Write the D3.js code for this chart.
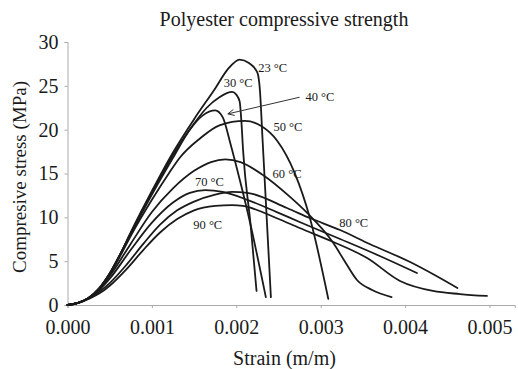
<!DOCTYPE html>
<html><head><meta charset="utf-8">
<script src="https://cdn.jsdelivr.net/npm/d3@7"></script>
<style>
html,body{margin:0;padding:0;background:#fff;}
text{font-family:"Liberation Serif","Times New Roman",Times,serif;fill:#1a1a1a;}
</style></head>
<body><svg id="c" width="518" height="369"></svg>
<script>
// ---- data ----
const title = "Polyester compressive strength";
const xTitle = "Strain (m/m)";
const yTitle = "Compresive stress (MPa)";
const xTicks = [0, 0.001, 0.002, 0.003, 0.004, 0.005];
const yTicks = [0, 5, 10, 15, 20, 25, 30];
const temps = ["23 °C","30 °C","40 °C","50 °C","60 °C","70 °C","80 °C","90 °C"];

const strain23 = [0,0.000125,0.00025,0.000375,0.0005,0.000625,0.00075,0.001,0.00125,0.0015,0.00175,0.0019,0.00204,0.00215,0.00225,0.00228,0.00231,0.00236,0.00241];
const stress23 = [0,0.25,0.8,1.9,3.6,5.8,8.3,13.0,17.4,21.2,24.7,26.9,28.0,27.6,26.5,24.5,19.1,10.0,0.9];

const strain30 = [0,0.000125,0.00025,0.000375,0.0005,0.000625,0.00075,0.001,0.00125,0.0015,0.00165,0.0018,0.00195,0.002,0.00204,0.00206,0.00208,0.00217,0.00224];
const stress30 = [0,0.25,0.8,1.9,3.6,5.8,8.2,12.8,17.1,20.7,22.5,23.7,24.3,24.0,23.2,21.0,17.7,9.1,1.6];

const strain40 = [0,0.000125,0.00025,0.000375,0.0005,0.000625,0.00075,0.001,0.00125,0.00145,0.0016,0.00175,0.00184,0.00192,0.00195,0.00217,0.00235];
const stress40 = [0,0.25,0.8,1.9,3.6,5.8,8.1,12.6,16.8,20.0,21.6,22.2,21.4,18.8,17.7,9.1,0.9];

const strain50 = [0,0.000125,0.00025,0.000375,0.0005,0.000625,0.00075,0.001,0.0012,0.00133,0.00157,0.0018,0.0021,0.0023,0.00248,0.00269,0.00287,0.00309];
const stress50 = [0,0.25,0.8,1.85,3.5,5.6,7.9,12.0,15.0,16.8,19.0,20.5,21.0,20.4,18.8,15.1,10.0,0.7];

const strain60 = [0,0.000125,0.00025,0.000375,0.0005,0.00075,0.001,0.00125,0.0015,0.0017,0.00187,0.00205,0.00232,0.00264,0.00284,0.00315,0.00329,0.00343,0.00361,0.00384];
const stress60 = [0,0.25,0.8,1.8,3.3,7.0,10.6,13.3,15.3,16.3,16.6,16.3,14.8,12.3,10.5,7.07,4.9,2.85,1.71,0.91];

const strain70 = [0,0.000125,0.00025,0.000375,0.0005,0.00075,0.001,0.00125,0.00145,0.00163,0.00184,0.00213,0.00248,0.00275,0.00323,0.0037,0.00414];
const stress70 = [0,0.25,0.8,1.7,3.0,6.3,9.4,11.7,12.8,13.1,12.9,12.0,10.6,9.47,7.53,5.59,3.65];

const strain80 = [0,0.000125,0.00025,0.000375,0.0005,0.0007,0.0009,0.0011,0.0013,0.0015,0.00175,0.00195,0.00213,0.0026,0.00287,0.00323,0.00358,0.00406,0.00435,0.00462];
const stress80 = [0,0.25,0.75,1.5,2.5,4.6,7.0,9.2,10.8,11.8,12.6,12.9,12.8,11.06,9.92,8.55,6.96,4.9,3.42,1.94];

const strain90 = [0,0.000125,0.00025,0.000375,0.0005,0.0007,0.0009,0.0011,0.0013,0.0015,0.00175,0.00195,0.00208,0.00248,0.00275,0.00315,0.00355,0.00394,0.00433,0.00465,0.00497];
const stress90 = [0,0.2,0.7,1.3,2.2,4.1,6.3,8.3,9.8,10.8,11.3,11.4,11.3,9.9,8.78,7.19,5.36,2.74,1.6,1.25,1.03];

// label anchors (strain, stress)
const labelStrain = [0.00226,0.00185,0.00282,0.00244,0.00243,0.00151,0.00322,0.00149];
const labelStress = [26.6,24.9,23.3,19.8,14.5,13.6,8.9,8.7];
// arrow for 40 °C: from (strain,stress) to (strain,stress)
const arrowStrain = [0.00275,0.0019];
const arrowStress = [23.7,21.8];

// ---- chart ----
const svg = d3.select("#c");
const x = d3.scaleLinear().domain([0,0.0053]).range([67.5,514.8]);
const y = d3.scaleLinear().domain([0,30]).range([305,42]);
const serif = "'Liberation Serif','Times New Roman',Times,serif";

svg.append("text").attr("x",284).attr("y",26).attr("text-anchor","middle")
  .style("font-family",serif).style("font-size","20px").text(title);

const gx = svg.append("g").attr("transform","translate(0,305)")
  .call(d3.axisBottom(x).tickValues(xTicks).tickFormat(d3.format(".3f")).tickSizeOuter(0).tickSize(3).tickPadding(12));
const gy = svg.append("g").attr("transform","translate(67.5,0)")
  .call(d3.axisLeft(y).tickValues(yTicks).tickSizeOuter(0).tickSize(3).tickPadding(6));
[gx,gy].forEach(g=>{
  g.attr("font-family",null);
  g.select(".domain").attr("stroke","#aaa");
  g.selectAll(".tick line").attr("stroke","#aaa");
  g.selectAll(".tick text").style("font-size","20px").style("font-family",serif).attr("fill","#1a1a1a");
});
gy.selectAll(".tick text").attr("dy","0.32em");

svg.append("text").attr("x",284.5).attr("y",365).attr("text-anchor","middle")
  .style("font-family",serif).style("font-size","20px").text(xTitle);
svg.append("text").attr("transform","translate(26,177) rotate(-90)").attr("text-anchor","middle")
  .style("font-family",serif).style("font-size","19px").text(yTitle);

const strains = [strain23,strain30,strain40,strain50,strain60,strain70,strain80,strain90];
const stresses = [stress23,stress30,stress40,stress50,stress60,stress70,stress80,stress90];
const line = d3.line().x(d=>x(d[0])).y(d=>y(d[1])).curve(d3.curveMonotoneX);
temps.forEach((t,i)=>{
  const pts = strains[i].map((s,j)=>[s,stresses[i][j]]);
  svg.append("path").datum(pts).attr("d",line)
    .attr("fill","none").attr("stroke","#1a1a1a").attr("stroke-width",1.8)
    .attr("stroke-linejoin","round").attr("stroke-linecap","round");
  svg.append("text").attr("x",x(labelStrain[i])).attr("y",y(labelStress[i]))
    .style("font-family",serif).style("font-size","12.5px").text(t);
});

// arrow
const ax1=x(arrowStrain[0]), ay1=y(arrowStress[0]), ax2=x(arrowStrain[1]), ay2=y(arrowStress[1]);
svg.append("line").attr("x1",ax1).attr("y1",ay1).attr("x2",ax2).attr("y2",ay2)
  .attr("stroke","#333").attr("stroke-width",1);
const ang = Math.atan2(ay1-ay2, ax1-ax2), L=7, w=0.45;
svg.append("path").attr("d",`M${ax2+L*Math.cos(ang+w)},${ay2+L*Math.sin(ang+w)} L${ax2},${ay2} L${ax2+L*Math.cos(ang-w)},${ay2+L*Math.sin(ang-w)}`)
  .attr("fill","none").attr("stroke","#333").attr("stroke-width",1);
</script></body></html>
